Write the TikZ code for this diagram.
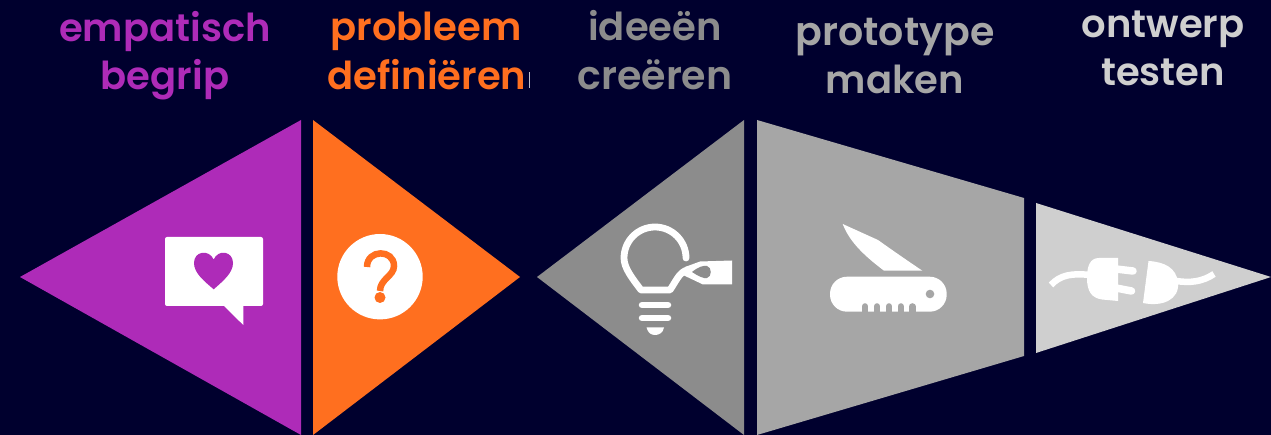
\documentclass[tikz,border=0pt]{standalone}
\usepackage{fontspec}
\setmainfont{Poppins SemiBold}
\definecolor{bgc}{HTML}{00002E}
\definecolor{purp}{HTML}{AE2BB8}
\definecolor{oran}{HTML}{FF6F1F}
\definecolor{gra}{HTML}{8C8C8C}
\definecolor{grb}{HTML}{A6A6A6}
\definecolor{grc}{HTML}{CFCFCF}
\tikzset{
  lbl/.style={anchor=base,inner sep=0pt,font=\fontsize{38.5}{42}\selectfont},
  lblw/.style={anchor=base,inner sep=0pt,font=\fontsize{39.5}{42}\selectfont},
  wline/.style={draw=white,line width=6.8pt,line cap=round,line join=round},
}
\begin{document}
\begin{tikzpicture}[x=1pt,y=-1pt]
\useasboundingbox (0,0) rectangle (1271,435);
\fill[bgc] (0,0) rectangle (1271,435);
% segments
\fill[purp] (20,277) -- (301,120) -- (301,435) -- cycle;
\fill[oran] (313,120) -- (520,277) -- (313,435) -- cycle;
\fill[gra] (537,277) -- (744,120) -- (744,435) -- cycle;
\fill[grb] (757,120) -- (1024,198) -- (1024,356) -- (757,435) -- cycle;
\fill[grc] (1036,203) -- (1271,277) -- (1036,353) -- cycle;
% labels
\node[lbl,text=purp] (l1a) at (165,41.5) {empatisch};
\node[lbl,text=purp] (l1b) at (165,89.5) {begrip};
\node[lbl,text=oran] (l2a) at (426,40.5) {probleem};
\node[lbl,text=oran] (l2b) at (427,89.5) {definiëren};
\node[lbl,text=gra] (l3a) at (655,41) {ideeën};
\node[lblw,text=gra] (l3b) at (655,90) {creëren};
\node[lblw,text=grb] (l4a) at (895,45.5) {prototype};
\node[lbl,text=grb] (l4b) at (895,93.5) {maken};
\node[lbl,text=grc] (l5a) at (1163,37.5) {ontwerp};
\node[lbl,text=grc] (l5b) at (1163,85.5) {testen};
\fill[white!75!bgc] (528.6,72) rectangle (529.6,88);
% bubble
\fill[white,rounded corners=2pt] (165,237) rectangle (263,306);
\fill[white] (223,305) -- (243.3,325) -- (243.3,305) -- cycle;
\fill[purp] (213.7,289.3) .. controls (204,281) and (194,273) .. (194,263)
  .. controls (194,251) and (209,249) .. (213.7,259.5)
  .. controls (218,249) and (233,251) .. (233,263)
  .. controls (233,273) and (223,281) .. (213.7,289.3) -- cycle;
% question
\fill[white] (380,276.7) circle (42.7);
\draw[oran,line width=6.5pt] (367,267) .. controls (367,249) and (394,249) .. (394,266)
  .. controls (394,276) and (380,279) .. (380,291);
\fill[oran] (380,297.5) circle (5.5);
% bulb
\draw[wline] (686,258) arc[start angle=0,end angle=-180,radius=31]
  .. controls (624,268) and (632,278) .. (641,290) -- (670,290)
  .. controls (678,278) and (680,270) .. (692,269);
\fill[white] (685,267) -- (700,261.5) -- (732,260.5) -- (732,284.5) -- (703,284.5) -- (683,275) -- cycle;
\fill[gra] (692,272) .. controls (698,267) and (704,265) .. (707,266)
  .. controls (712,267) and (712,277) .. (707,278)
  .. controls (704,279) and (698,276) .. (692,272) -- cycle;
\draw[white,line width=6.5pt,line cap=round] (642,305) -- (668,305);
\draw[white,line width=6.5pt,line cap=round] (642,318) -- (668,318);
\fill[white] (646.5,327.5) -- (664,327.5) .. controls (663,333) and (659,335) .. (655,335) .. controls (651,335) and (648,333) .. (646.5,327.5) -- cycle;
% knife
\fill[white] (842.7,224) -- (878,240) .. controls (892,250) and (905,259) .. (922.3,270.7)
  -- (884,270.7) .. controls (866,257) and (850,243) .. (842.7,224) -- cycle;
\fill[white,rounded corners=17pt] (830,276.7) rectangle (946.7,311.7);
\fill[grb] (930,294) circle (4.3);
\foreach \nx in {865,877,889,900.7,912.3}{
  \draw[grb,line width=6.4pt,line cap=round] (\nx,306.4) -- (\nx,315);
}
% plug
\draw[white,line width=6.5pt] (1051,285) .. controls (1060,275) and (1072,273) .. (1090,275);
\fill[white] (1118,258) -- (1099,258) .. controls (1090,258) and (1087,266) .. (1087,278)
  .. controls (1087,292) and (1092,298) .. (1102,299.5) -- (1118,301) -- cycle;
\draw[white,line width=7.5pt,line cap=round] (1116,269) -- (1133,271);
\draw[white,line width=7.5pt,line cap=round] (1116,288) -- (1131.5,291);
\fill[white] (1148.5,261) -- (1143,303) .. controls (1162,307) and (1180,300) .. (1178,282)
  .. controls (1176,268) and (1165,262) .. (1148.5,261) -- cycle;
\draw[white,line width=6.5pt] (1176,281) .. controls (1190,283) and (1202,282) .. (1214,274);
\end{tikzpicture}
\end{document}
